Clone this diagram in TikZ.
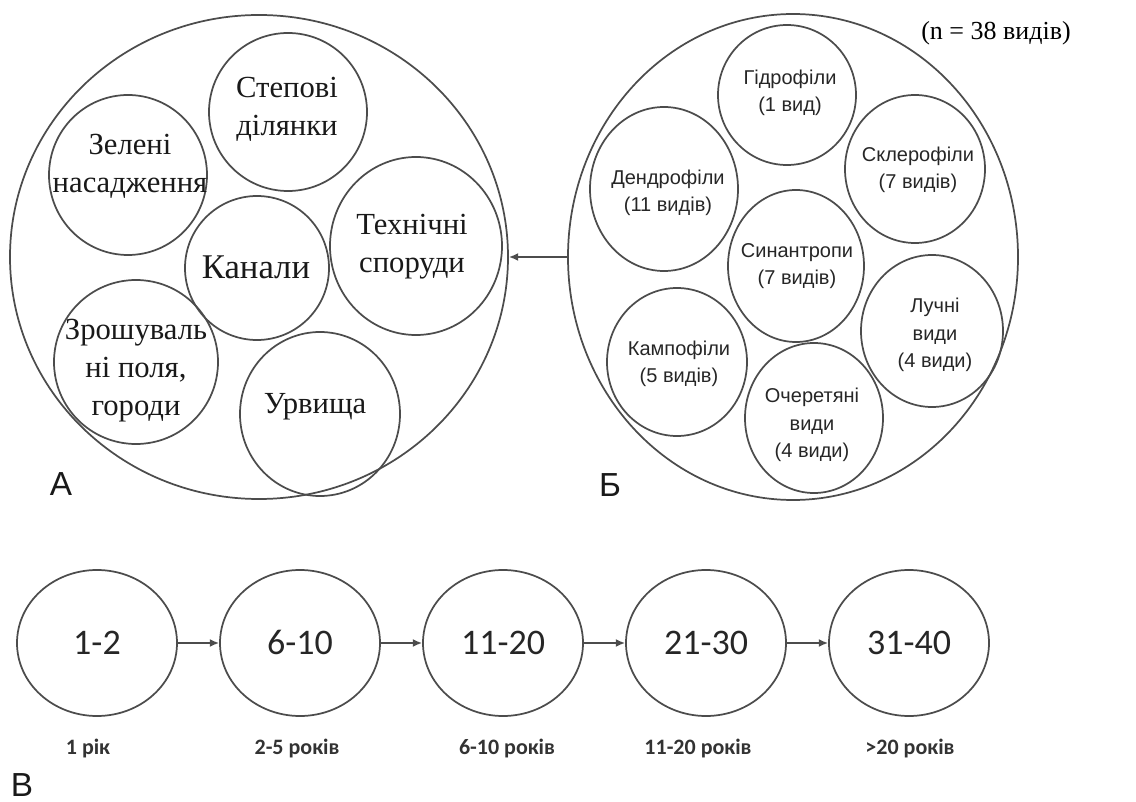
\documentclass[tikz,border=0pt]{standalone}
\usepackage{fontspec}
\setmainfont{Liberation Serif}
\newfontfamily\arialf{Liberation Sans}
\newfontfamily\calibf{Carlito}
\usetikzlibrary{shapes.geometric,arrows.meta}
\begin{document}
\begin{tikzpicture}[x=0.75pt,y=-0.75pt,
  ring/.style n args={2}{draw=black!70, line width=1.3pt, ellipse, inner sep=0pt,
    minimum width=#1*1.5pt, minimum height=#2*1.5pt},
  ltxt/.style={font=\fontsize{23}{28.5}\selectfont, align=center, text=black!90, inner sep=0pt},
  rtxt/.style={font=\arialf\fontsize{15}{20.6}\selectfont, align=center, text=black!85, inner sep=0pt},
  ntxt/.style={font=\calibf\fontsize{27}{30}\selectfont, text=black!85, inner sep=0pt,
    anchor=base, yshift=-8.6pt},
  yrs/.style={font=\calibf\bfseries\fontsize{16.5}{18}\selectfont, text=black!80, inner sep=0pt,
    anchor=base},
  tag/.style={font=\arialf\fontsize{25}{28}\selectfont, text=black!90, inner sep=0pt},
  arr/.style={draw=black!70, line width=1.3pt, -{Latex[length=7pt,width=6pt]}}]
\useasboundingbox (0,0) rectangle (1136,802);

% ---- A ----
\node[ring={249}{242}] (A) at (259,257) {};
\node[ring={79}{79}] (st) at (288,112) {};
\node[ring={79}{80}] (zl) at (128,175) {};
\node[ring={72}{72}] (kn) at (257,268) {};
\node[ring={86}{89}] (th) at (416,246) {};
\node[ring={82}{82}] (zr) at (136,362) {};
\node[ring={80}{82}] (ur) at (320,414) {};

\node[ltxt] (tst) at (287,109) {Степові\\ділянки};
\node[ltxt] (tzl) at (130,166) {Зелені\\насадження};
\node[ltxt, font=\fontsize{26}{30}\selectfont] (tkn) at (256,267) {Канали};
\node[ltxt] (tth) at (412,247) {Технічні\\споруди};
\node[ltxt] (tzr) at (136,371) {Зрошуваль\\ні поля,\\городи};
\node[ltxt] (tur) at (315,407) {Урвища};

\node[tag] (la) at (61,484) {А};

% ---- Б ----
\node[ring={225}{243}] (B) at (793,257) {};
\node[ring={69}{70}] (gd) at (787,95) {};
\node[ring={74}{82}] (dn) at (664,189) {};
\node[ring={70}{74}] (sk) at (915,169) {};
\node[ring={68}{76}] (sn) at (796,266) {};
\node[ring={71}{76}] (lu) at (932,331) {};
\node[ring={70}{74}] (km) at (677,362) {};
\node[ring={69}{75}] (oc) at (814,418) {};

\node[rtxt] (tgd) at (790,93) {Гідрофіли\\(1 вид)};
\node[rtxt] (tdn) at (668,193) {Дендрофіли\\(11 видів)};
\node[rtxt] (tsk) at (918,170) {Склерофіли\\(7 видів)};
\node[rtxt] (tsn) at (797,266) {Синантропи\\(7 видів)};
\node[rtxt] (tlu) at (935,335) {Лучні\\види\\(4 види)};
\node[rtxt] (tkm) at (679,364) {Кампофіли\\(5 видів)};
\node[rtxt] (toc) at (812,425) {Очеретяні\\види\\(4 види)};

\node[font=\fontsize{19.5}{21}\selectfont, inner sep=0pt] (n) at (996,33) {(n = 38 видів)};
\node[tag] (lb) at (610,485) {Б};

\draw[arr] (B.west) -- (A.east);

% ---- В ----
\node[ring={80}{73}] (c1) at (97,643) {};
\node[ring={80}{73}] (c2) at (300,643) {};
\node[ring={80}{73}] (c3) at (503,643) {};
\node[ring={80}{73}] (c4) at (706,643) {};
\node[ring={80}{73}] (c5) at (909,643) {};

\node[ntxt] (n1) at (c1) {1-2};
\node[ntxt] (n2) at (c2) {6-10};
\node[ntxt] (n3) at (c3) {11-20};
\node[ntxt] (n4) at (c4) {21-30};
\node[ntxt] (n5) at (c5) {31-40};

\draw[arr] (c1.east) -- (c2.west);
\draw[arr] (c2.east) -- (c3.west);
\draw[arr] (c3.east) -- (c4.west);
\draw[arr] (c4.east) -- (c5.west);

\node[yrs] (y1) at (88,754) {1 рік};
\node[yrs] (y2) at (297,754) {2-5 років};
\node[yrs] (y3) at (507,754) {6-10 років};
\node[yrs] (y4) at (698,754) {11-20 років};
\node[yrs] (y5) at (910,754) {>20 років};

\node[tag, anchor=base] (lv) at (22,796) {В};
\end{tikzpicture}
\end{document}
